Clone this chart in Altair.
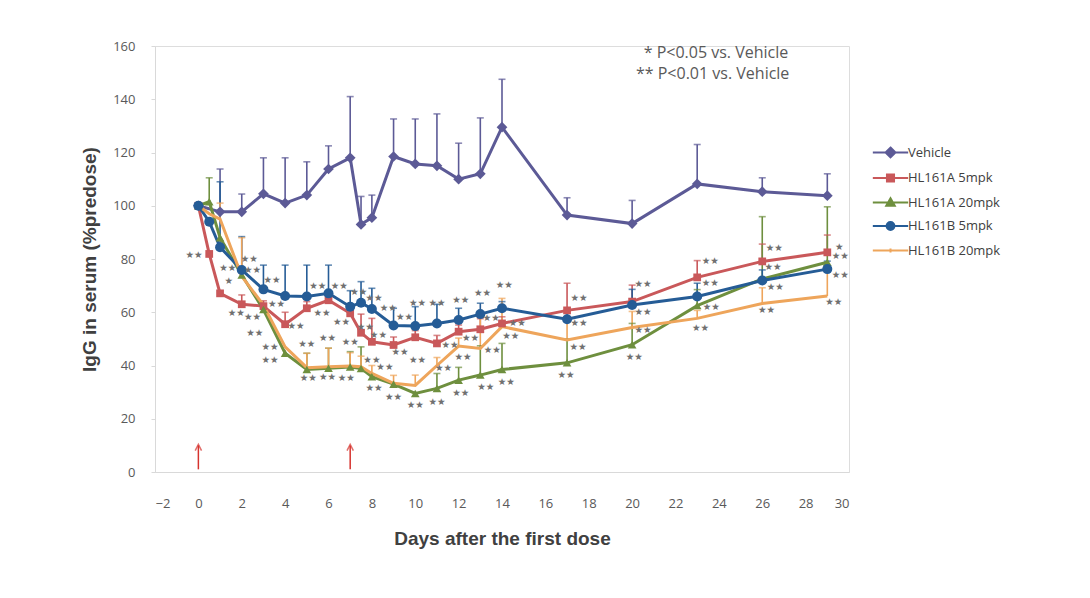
import altair as alt
import pandas as pd

days = [0, 0.5, 1, 2, 3, 4, 5, 6, 7, 7.5, 8, 9, 10, 11, 12, 13, 14, 17, 20, 23, 26, 29]
series_names = ["Vehicle", "HL161A 5mpk", "HL161A 20mpk", "HL161B 5mpk", "HL161B 20mpk"]
colors = ["#5c5a96", "#c9585a", "#6e8f3e", "#255c96", "#eea55b"]
N = None

vehicle_mean = [100, N, 97.7, 97.7, 104.5, 101, 104, 113.8, 118, 93, 95.5, 118.5, 115.7, 115, 110, 112, 129.5, 96.5, 93.3, 108.2, 105.3, 103.8]
vehicle_err = [N, N, 16.1, 6.7, 13.5, 17, 12.5, 8.7, 23, 10.5, 8.5, 14.1, 16.9, 19.5, 13.5, 21, 18, 6.5, 8.7, 14.8, 5.2, 8.2]

a5_mean = [100, 81.9, 67.1, 63.0, 62.3, 55.5, 61.5, 64.5, 59.6, 52.3, 48.9, 47.7, 50.6, 48.3, 52.7, 53.6, 55.8, 60.7, 64.0, 73.1, 79.1, 82.5]
a5_err = [N, N, N, 3.5, 2, 4.5, 2.5, 2.5, 3, 7, 8.8, 3, 2.5, 3, 2.5, 4, 2.5, 10.2, 6.2, 6.3, 6.5, 6.5]

a20_mean = [100, 101.5, 88, 74, 61, 44.6, 38.5, 39, 39.4, 38.9, 35.8, 33.0, 29.5, 31.4, 34.5, 36.4, 38.5, 41, 47.8, 62.5, 72.5, 78.8]
a20_err = [N, 9, N, N, N, N, 6.1, 7.5, 5.8, 8.1, N, N, N, 5.6, 4.8, 11, 9.8, 9, 8, 6, 23.4, 20.8]

b5_mean = [100, 94.0, 84.4, 75.9, 68.6, 66.1, 65.9, 67.1, 62.1, 63.6, 61.2, 55, 54.8, 55.8, 57.1, 59.3, 61.5, 57.4, 62.7, 65.9, 71.9, 76.2]
b5_err = [N, N, 24.6, 12.5, 9.1, 11.6, 11.8, 10.6, 6, 7.9, 7.8, 6.5, 7.3, 7.2, 4.4, 4.1, 2.5, 3, 5.9, 5, 4, 3]

b20_mean = [100, 97, 95, 73.5, 62.7, 47, 39.2, 39.5, 39.8, 39.5, 37, 33.3, 32.5, 40, 47.3, 46.4, 54.6, 49.6, 54.3, 57.7, 63.3, 66.1]
b20_err = [N, N, 6, 14.5, N, N, 5.4, 7, 5, 4, 3, 3, 3.9, 3, 3, 12, 10.6, 8, 6, 3, 5.9, 11]

star_day = [-0.2, 1.35, 2.35, 2.5, 1.4, 3.4, 1.75, 2.5, 3.6, 4.5, 2.6, 3.3, 3.3, 5,
            5.5, 6.5, 7.4, 8.1, 5.7, 6.6, 7.7, 8.75, 9.5, 10.1, 11, 5.95, 7, 8.3, 9.3,
            10.1, 11.3, 5.07, 5.95, 6.82, 8, 8.6, 8.1, 9, 10, 11, 12.1, 13.1, 14.1, 13.5,
            14.7, 12.55, 11.6, 14.4, 12.2, 13.55, 12.1, 13.25, 14.2, 17.55, 17.55, 17.5, 16.95,
            20.5, 20.5, 20.5, 20.1, 23.6, 23.6, 23.65, 23.15, 26.55, 26.5, 26.6, 26.2,
            29.55, 29.6, 29.6, 29.3]
star_val = [81.5, 76.6, 80, 76, 71.7, 72, 59.7, 58.2, 63, 55, 52.2, 47, 42, 48,
            70, 70, 67.6, 65.3, 59.7, 56.3, 54.5, 61.6, 58.2, 63.5, 63.5, 50.3, 48.8, 51.5, 45,
            42, 39, 35.4, 35.8, 35.2, 42, 39.4, 31.6, 28, 25.2, 26.3, 64.6, 67.1, 70.2, 57.7,
            56.1, 50.2, 47.7, 51.1, 43.3, 45.8, 29.6, 32, 33.9, 65.2, 55.9, 46.8, 36.4,
            70.6, 60.2, 53.3, 43.1, 79.4, 70.9, 62.1, 54, 84, 77.1, 69.6, 60.8,
            84.6, 81.1, 74, 64]
star_txt = ["★★"] * len(star_day)
star_txt[4] = "★"
star_txt[69] = "★"

arrow_days = [0, 7]
note_lines = ["* P<0.05 vs. Vehicle", "** P<0.01 vs. Vehicle"]
note_vals = [157.2, 149.3]
note_day = [27.2, 27.25]

marker_shapes = ["diamond", "square", "triangle-up", "circle"]
marker_sizes = [115, 60, 75, 100]
legend_paths = [
    "M-2.5,0L2.5,0M0,-0.7L0.7,0L0,0.7L-0.7,0Z",
    "M-2.5,0L2.5,0M-0.5,-0.5L0.5,-0.5L0.5,0.5L-0.5,0.5Z",
    "M-2.5,0L2.5,0M0,-0.6L0.6,0.45L-0.6,0.45Z",
    "M-2.5,0L2.5,0M0.55,0A0.55,0.55 0 1,1 -0.55,0A0.55,0.55 0 1,1 0.55,0Z",
    "M-2.5,0L2.5,0M0,-0.3L0,0.3",
]

rows = []
for name, means, errs in zip(series_names,
                             [vehicle_mean, a5_mean, a20_mean, b5_mean, b20_mean],
                             [vehicle_err, a5_err, a20_err, b5_err, b20_err]):
    for d, m, e in zip(days, means, errs):
        if m is None:
            continue
        rows.append({"series": name, "day": d, "mean": m,
                     "top": (m + e) if e is not None else None})
df = pd.DataFrame(rows)

stars = pd.DataFrame({"day": star_day, "val": star_val, "txt": star_txt})
notes = pd.DataFrame({"day": note_day, "val": note_vals, "txt": note_lines})
arrows = pd.DataFrame({"day": arrow_days})

xscale = alt.Scale(domain=[-2, 30], nice=False)
yscale = alt.Scale(domain=[0, 160], nice=False)
cscale = alt.Scale(domain=series_names, range=colors)

X = alt.X("day:Q", scale=xscale,
          axis=alt.Axis(values=list(range(-2, 31, 2)), title="Days after the first dose",
                        grid=False, labelPadding=25, tickSize=0, domainColor="#d9d9d9",
                        labelFont="Open Sans", labelFontSize=13, labelColor="#595959",
                        titleFont="Liberation Sans", titleFontSize=19, titleFontWeight="bold",
                        titleColor="#404040", titlePadding=19))
Y_axis = alt.Axis(values=list(range(0, 161, 20)), title="IgG in serum (%predose)",
                  grid=False, labelPadding=16, tickSize=4, tickColor="#d9d9d9",
                  domainColor="#d9d9d9", labelFont="Open Sans", labelFontSize=13,
                  labelColor="#595959", titleFont="Liberation Sans", titleFontSize=19,
                  titleFontWeight="bold", titleColor="#404040", titlePadding=13)

leg = dict(title=None, orient="none", legendX=727, legendY=98,
           symbolSize=200, symbolStrokeWidth=2, symbolOpacity=1, labelOffset=9,
           labelFont="Open Sans", labelFontSize=13,
           labelColor="#404040", rowPadding=7.5)

base = alt.Chart(df)
color = alt.Color("series:N", scale=cscale, legend=alt.Legend(**leg))

err_rules = base.mark_rule(strokeWidth=1.6).encode(
    x=X, y=alt.Y("mean:Q", scale=yscale, axis=Y_axis), y2="top:Q", color=color
).transform_filter("isValid(datum.top)")

caps = base.mark_tick(orient="horizontal", size=7, thickness=1.6).encode(
    x="day:Q", y="top:Q", color=color
).transform_filter("isValid(datum.top)")

lines = base.mark_line(strokeWidth=3).encode(
    x="day:Q", y="mean:Q", color=color, order="day:Q"
)

point_layers = []
for name, shp, sz in zip(series_names[:4], marker_shapes, marker_sizes):
    point_layers.append(
        base.mark_point(filled=True, opacity=1, shape=shp, size=sz).encode(
            x="day:Q", y="mean:Q", color=color
        ).transform_filter(alt.datum.series == name)
    )

legend_layer = base.mark_point(filled=False, strokeWidth=2, opacity=1).encode(
    x="day:Q", y="mean:Q",
    color=color,
    shape=alt.Shape("series:N", scale=alt.Scale(domain=series_names, range=legend_paths),
                    legend=alt.Legend(**leg)),
).transform_filter("datum.day > 1000")

star_layer = alt.Chart(stars).mark_text(font="DejaVu Sans", fontSize=9.5, color="#707070").encode(
    x="day:Q", y="val:Q", text="txt:N"
)

note_layer = alt.Chart(notes).mark_text(font="Open Sans", fontSize=16, color="#595959",
                                        align="right").encode(
    x="day:Q", y="val:Q", text="txt:N"
)

arrow_shaft = alt.Chart(arrows).mark_rule(color="#d6332e", strokeWidth=1.5).encode(
    x="day:Q", y=alt.datum(1), y2=alt.datum(10)
)
arrow_head = alt.Chart(arrows).mark_point(shape="M-1,1L0,-1L1,1", filled=False, color="#d6332e",
                                          strokeWidth=1.5, size=40).encode(
    x="day:Q", y=alt.datum(9.2)
)

chart = alt.layer(
    err_rules, caps, lines, *point_layers, legend_layer, star_layer, note_layer,
    arrow_shaft, arrow_head
).properties(
    width=694, height=426,
    autosize=alt.AutoSizeParams(type="none"),
    padding={"left": 147, "top": 38, "right": 220, "bottom": 110},
).configure_view(stroke=None).configure(background="white")

chart.save("out.html", embed_options={"renderer": "svg", "actions": False})
